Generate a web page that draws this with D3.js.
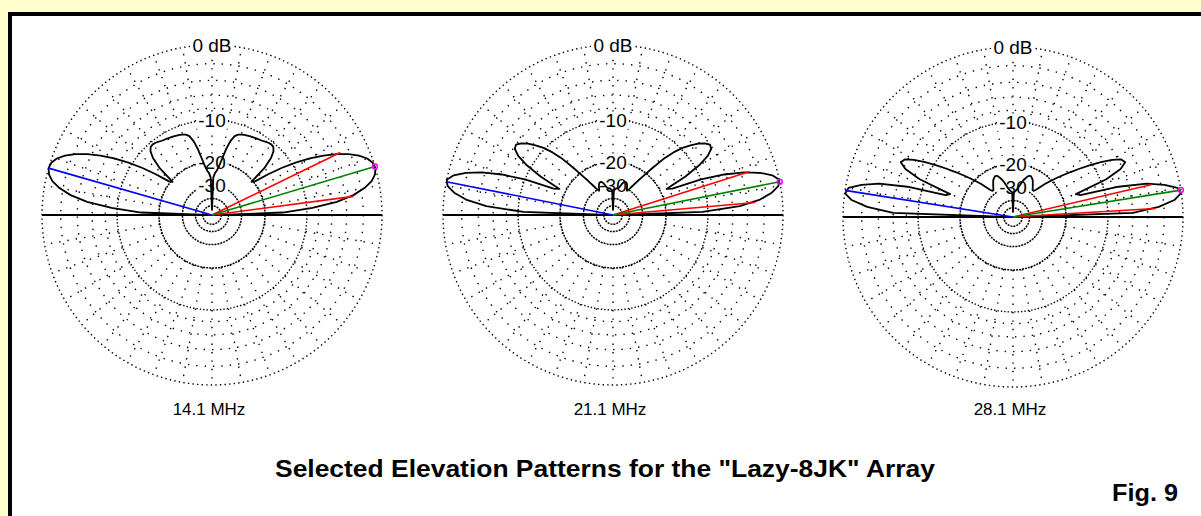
<!DOCTYPE html>
<html><head><meta charset="utf-8">
<script src="https://cdn.jsdelivr.net/npm/d3@7"></script>
<style>body{margin:0;background:#ffffcc}svg{display:block}</style>
</head><body>
<svg id="c" width="1201" height="516"></svg>
<script>
// ---------- data ----------
const frequencies = ["14.1 MHz", "21.1 MHz", "28.1 MHz"];
const elevation = [0,2,4,6,8,10,12,14,16,18,20,22,24,26,28,30,32,34,36,38,40,42,44,46,48,50,52,54,56,58,60,62,64,66,68,70,72,74,76,78,80,82,84,86,88,90,
  92,94,96,98,100,102,104,106,108,110,112,114,116,118,120,122,124,126,128,130,132,134,136,138,140,142,144,146,148,150,152,154,156,158,160,162,164,166,168,170,172,174,176,178,180];
const gain14 = [-60,-15,-9,-5.2,-3,-1.6,-0.7,-0.2,0,-0.1,-0.5,-1.2,-2.2,-3.5,-5.1,-7,-9.2,-12,-15.5,-19.5,-20.5,-15,-12.5,-11.2,-10.6,-10.5,-10.6,-10.8,-11,-11.1,-11.2,-11.3,-11.4,-11.5,-11.6,-11.8,-12,-12.5,-13.8,-16,-19,-21.5,-23,-24,-26,-60,
  -26,-24,-23,-21.5,-19,-16,-13.8,-12.5,-12,-11.8,-11.6,-11.5,-11.4,-11.3,-11.2,-11.1,-11,-10.8,-10.6,-10.5,-10.6,-11.2,-12.5,-15,-20.5,-19.5,-15.5,-12,-9.2,-7,-5.1,-3.5,-2.2,-1.2,-0.5,-0.1,0,-0.2,-0.7,-1.6,-3,-5.2,-9,-15,-60];
const gain21 = [-60,-11,-5,-2.4,-1,-0.2,0,-0.6,-1.8,-3.6,-6.2,-10,-16.5,-18,-12.5,-9.2,-7.2,-6.2,-6,-6.5,-7.3,-8.4,-9.7,-11.5,-14,-17.5,-21,-24,-27,-29.5,-31,-30,-28.5,-27.5,-27,-27,-27.5,-28.5,-30,-31,-31.5,-31.5,-32,-32.5,-33,-60,
  -33,-32.5,-32,-31.5,-31.5,-31,-30,-28.5,-27.5,-27,-27,-27.5,-28.5,-30,-31,-29.5,-27,-24,-21,-17.5,-14,-11.5,-9.7,-8.4,-7.3,-6.5,-6,-6.2,-7.2,-9.2,-12.5,-18,-16.5,-10,-6.2,-3.6,-1.8,-0.6,0,-0.2,-1,-2.4,-5,-11,-60];
const gain28 = [-60,-6,-2.6,-0.8,-0.05,-0.3,-1.6,-3.6,-7.5,-15,-16,-9,-6.3,-5.3,-5.6,-6.8,-8.5,-10.5,-12.5,-14.5,-16.5,-18.5,-20.5,-22.5,-25,-27,-28,-28,-27,-26,-25,-24,-23.5,-23,-23,-23.5,-24.5,-25.5,-27,-28.5,-30,-31,-32,-32.5,-33,-60,
  -33,-32.5,-32,-31,-30,-28.5,-27,-25.5,-24.5,-23.5,-23,-23,-23.5,-24,-25,-26,-27,-28,-28,-27,-25,-22.5,-20.5,-18.5,-16.5,-14.5,-12.5,-10.5,-8.5,-6.8,-5.6,-5.3,-6.3,-9,-16,-15,-7.5,-3.6,-1.6,-0.3,-0.05,-0.8,-2.6,-6,-60];
const gains = [gain14, gain21, gain28];
const peakAngle   = [16.6, 11.3, 9.1];     // green line (maximum)
const backAngle   = [164.0, 168.7, 171.0]; // blue line (rear maximum)
const halfLow     = [7.5, 5.0, 3.4];       // red lines (-3 dB points)
const halfHigh    = [26.0, 17.6, 13.2];
const peakDb = 0, halfDb = -3;
const ringLabels = ["0 dB", "-10", "-20", "-30"];
const ringLabelDb = [0, -10, -20, -30];
const sparseRingsDb = [-2, -4, -6, -8];
const denseRingsDb = [-20, -30, -40, -50];
const radialAngles = [0,10,20,30,40,50,60,70,80,90,100,110,120,130,140,150,160,170,180,190,200,210,220,230,240,250,260,270,280,290,300,310,320,330,340,350];
const title = "Selected Elevation Patterns for the \"Lazy-8JK\" Array";
const figLabel = "Fig. 9";

// ---------- layout ----------
const W = 1201, H = 516, R = 170;
const centersX = [212, 613, 1013];
const centersY = [215, 215, 217];
const svg = d3.select("#c");
svg.append("rect").attr("width", W).attr("height", H).attr("fill", "#ffffcc");
svg.append("rect").attr("x", 8).attr("y", 12).attr("width", W).attr("height", H).attr("fill", "#000");
svg.append("rect").attr("x", 12).attr("y", 16).attr("width", W).attr("height", H).attr("fill", "#fff");

// ARRL log-periodic scale: r = R * 0.89^(-dB/2)  -> log(r) linear in dB
const rScale = d3.scaleLog().domain([R * Math.pow(0.89, 30), R]).range([-60, 0]);
const rad = db => rScale.invert(db);
const ang = a => (90 - a) * Math.PI / 180;
const pt = (a, db) => [rad(db) * Math.cos(a * Math.PI / 180), -rad(db) * Math.sin(a * Math.PI / 180)];

const FONT = "'Liberation Sans', Arial, sans-serif";

frequencies.forEach((freq, i) => {
  const g = svg.append("g").attr("transform", `translate(${centersX[i]},${centersY[i]})`);
  // radial dotted lines
  g.selectAll("line.rad").data(radialAngles).enter().append("line")
    .attr("x1", d => pt(d, -20)[0]).attr("y1", d => pt(d, -20)[1])
    .attr("x2", d => pt(d, 0)[0]).attr("y2", d => pt(d, 0)[1])
    .attr("stroke", "#000").attr("stroke-width", 1.4).attr("stroke-dasharray", "1.4 7");
  // sparse rings
  g.selectAll("circle.sp").data(sparseRingsDb).enter().append("circle")
    .attr("r", d => rad(d)).attr("fill", "none").attr("stroke", "#000")
    .attr("stroke-width", 1.4).attr("stroke-dasharray", "1.4 7");
  // outer & -10 rings
  g.append("circle").attr("r", rad(0)).attr("fill", "none").attr("stroke", "#000")
    .attr("stroke-width", 1.4).attr("stroke-dasharray", "1.4 3.2");
  g.append("circle").attr("r", rad(-10)).attr("fill", "none").attr("stroke", "#000")
    .attr("stroke-width", 1.4).attr("stroke-dasharray", "1.4 2");
  // dense inner rings
  g.selectAll("circle.dn").data(denseRingsDb).enter().append("circle")
    .attr("r", d => rad(d)).attr("fill", "none").attr("stroke", "#000")
    .attr("stroke-width", 1.5).attr("stroke-dasharray", "2 1");
  // horizon
  g.append("line").attr("x1", -R).attr("x2", R).attr("y1", 0).attr("y2", 0)
    .attr("stroke", "#000").attr("stroke-width", 2);
  // ring labels with white background
  ringLabels.forEach((lab, k) => {
    const t = g.append("text").attr("x", 0).attr("y", -rad(ringLabelDb[k]) + 7)
      .attr("text-anchor", "middle").attr("font-family", FONT).attr("font-size", 19)
      .attr("fill", "#000").text(lab);
    const b = t.node().getBBox();
    g.insert("rect", () => t.node()).attr("x", b.x - 2).attr("y", b.y + 2)
      .attr("width", b.width + 4).attr("height", b.height - 4).attr("fill", "#fff");
  });
  // pattern
  const data = elevation.map((a, k) => [a, gains[i][k]]);
  const line = d3.lineRadial().angle(d => ang(d[0])).radius(d => rad(d[1]));
  g.append("path").attr("d", line(data)).attr("fill", "none").attr("stroke", "#000")
    .attr("stroke-width", 1.8).attr("stroke-linejoin", "round");
  // marker lines
  const seg = (a, db, col) => g.append("line").attr("x1", 0).attr("y1", 0)
    .attr("x2", pt(a, db)[0]).attr("y2", pt(a, db)[1])
    .attr("stroke", col).attr("stroke-width", 1.6);
  seg(backAngle[i], peakDb, "#0000ff");
  seg(halfLow[i], halfDb, "#ff0000");
  seg(halfHigh[i], halfDb, "#ff0000");
  seg(peakAngle[i], peakDb, "#008000");
  const mp = pt(peakAngle[i], peakDb);
  g.append("circle").attr("cx", mp[0]).attr("cy", mp[1]).attr("r", 2.5)
    .attr("fill", "none").attr("stroke", "#ff00ff").attr("stroke-width", 1.5);
  // frequency label
  svg.append("text").attr("x", centersX[i] - 3).attr("y", 415).attr("text-anchor", "middle")
    .attr("font-family", FONT).attr("font-size", 17).attr("fill", "#000").text(freq);
});

svg.append("text").attr("x", 275).attr("y", 477).attr("font-family", FONT)
  .attr("font-weight", "bold").attr("font-size", 24).attr("textLength", 660)
  .attr("lengthAdjust", "spacingAndGlyphs").attr("fill", "#000").text(title);
svg.append("text").attr("x", 1112).attr("y", 501).attr("font-family", FONT)
  .attr("font-weight", "bold").attr("font-size", 24).attr("textLength", 66)
  .attr("lengthAdjust", "spacingAndGlyphs").attr("fill", "#000").text(figLabel);
</script>
</body></html>
